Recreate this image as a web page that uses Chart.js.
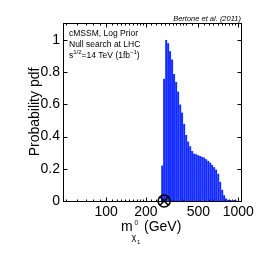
<!DOCTYPE html>
<html>
<head>
<meta charset="utf-8">
<script src="https://cdn.jsdelivr.net/npm/chart.js@4.4.1/dist/chart.umd.min.js"></script>
<style>
  html, body { margin: 0; padding: 0; background: #fff; }
  #wrap { width: 266px; height: 266px; }
</style>
</head>
<body>
<div id="wrap"><canvas id="c" width="266" height="266"></canvas></div>
<script>
// Bin centres (GeV) and posterior pdf values
const massBins = [266, 275, 285, 295, 305, 316, 327, 339, 351, 364, 376, 390, 404, 418, 433, 448, 464, 481, 498, 515, 534, 553, 572, 593, 614, 635, 658, 681, 706, 731, 757, 783, 811, 840, 870, 901, 933, 966];
const pdfValues = [0.22, 0.76, 1.0, 0.98, 0.93, 0.88, 0.79, 0.74, 0.68, 0.60, 0.55, 0.48, 0.41, 0.37, 0.34, 0.31, 0.295, 0.29, 0.285, 0.28, 0.275, 0.27, 0.26, 0.25, 0.24, 0.225, 0.21, 0.195, 0.17, 0.12, 0.07, 0.035, 0.015, 0.008, 0.006, 0.004, 0.006, 0.003];
// Null-search best-fit marker
const markerPoint = [{ x: 275, y: 0 }];
// Axis ticks
const xTickLabels = [100, 200, 500, 1000];
const xMinorTicks = [50, 60, 70, 80, 90, 100, 110, 120, 130, 140, 150, 160, 170, 180, 190, 200, 220, 240, 260, 280, 300, 320, 340, 360, 380, 400, 450, 500, 550, 600, 650, 700, 750, 800, 850, 900, 950, 1000];
const yTickValues = [0, 0.2, 0.4, 0.6, 0.8, 1];

const FONT = '"Liberation Sans", Arial, Helvetica, sans-serif';

const framePlugin = {
  id: 'frame',
  beforeDatasetsDraw(chart) {
    const { ctx, chartArea: a, scales: { x, y } } = chart;
    ctx.save();
    ctx.strokeStyle = '#000';
    ctx.lineWidth = 1;
    const L = Math.round(a.left) - 0.5, R = Math.round(a.right) + 0.5;
    const T = Math.round(a.top) - 0.5, B = Math.round(a.bottom) + 0.5;
    ctx.strokeRect(L, T, R - L, B - T);
    ctx.beginPath();
    xMinorTicks.forEach(v => {
      const px = Math.round(x.getPixelForValue(v)) + 0.5;
      if (px < L || px > R) return;
      const len = xTickLabels.includes(v) ? 4 : 2;
      ctx.moveTo(px, B); ctx.lineTo(px, B - len);
      ctx.moveTo(px, T); ctx.lineTo(px, T + len);
    });
    yTickValues.forEach(v => {
      const py = Math.round(y.getPixelForValue(v)) + 0.5;
      ctx.moveTo(L, py); ctx.lineTo(L + 4, py);
      ctx.moveTo(R, py); ctx.lineTo(R - 4, py);
    });
    ctx.stroke();
    ctx.restore();
  },
  afterDraw(chart) {
    const { ctx } = chart;
    ctx.save();
    ctx.fillStyle = '#000';
    ctx.textBaseline = 'alphabetic';
    // Citation
    ctx.font = 'italic 7.5px ' + FONT;
    ctx.textAlign = 'right';
    ctx.fillText('Bertone et al. (2011)', 241, 21);
    // Inset text
    ctx.textAlign = 'left';
    ctx.font = '8.5px ' + FONT;
    ctx.fillText('cMSSM, Log Prior', 69, 35.5);
    ctx.fillText('Null search at LHC', 69, 46.5);
    let cx = 69;
    const seg = (t, size, dy) => {
      ctx.font = size + 'px ' + FONT;
      ctx.fillText(t, cx, 57.5 + dy);
      cx += ctx.measureText(t).width;
    };
    seg('s', 8.5, 0);
    seg('1/2', 6, -3.5);
    seg('=14 TeV (1fb', 8.5, 0);
    seg('\u22121', 6, -3.5);
    seg(')', 8.5, 0);
    // Y title
    ctx.save();
    ctx.translate(35, 112);
    ctx.rotate(-Math.PI / 2);
    ctx.textAlign = 'center';
    ctx.textBaseline = 'middle';
    ctx.font = '14px ' + FONT;
    ctx.fillText('Probability pdf', 0, 0);
    ctx.restore();
    // X title: m_{chi_1^0} (GeV)
    ctx.textAlign = 'left';
    ctx.font = '14px ' + FONT;
    ctx.fillText('m', 121, 231);
    ctx.font = '6.5px ' + FONT;
    ctx.fillText('0', 134.5, 225);
    ctx.font = '9px ' + FONT;
    ctx.fillText('\u03c7', 131.5, 240);
    ctx.font = '6px ' + FONT;
    ctx.fillText('1', 137, 244);
    ctx.font = '14px ' + FONT;
    ctx.fillText('(GeV)', 144, 231);
    ctx.restore();
  }
};

const barData = massBins.map((m, i) => ({ x: m, y: pdfValues[i] }));

new Chart(document.getElementById('c'), {
  type: 'bar',
  data: {
    datasets: [
      {
        type: 'scatter',
        data: markerPoint,
        pointStyle: 'crossRot',
        pointRadius: 6,
        borderColor: '#000',
        borderWidth: 1.6,
        backgroundColor: 'transparent',
        clip: false
      },
      {
        type: 'scatter',
        data: markerPoint,
        pointStyle: 'circle',
        pointRadius: 6,
        borderColor: '#000',
        borderWidth: 1.6,
        backgroundColor: 'transparent',
        clip: false
      },
      {
        type: 'bar',
        data: barData,
        backgroundColor: '#0018ff',
        borderColor: '#3a5cff',
        borderWidth: { left: 0, right: 0.7, top: 0, bottom: 0 },
        borderSkipped: false,
        barPercentage: 1.0,
        categoryPercentage: 1.0
      }
    ]
  },
  options: {
    responsive: false,
    animation: false,
    events: [],
    layout: { padding: { left: 0, right: 25, top: 24, bottom: 0 } },
    plugins: { legend: { display: false }, tooltip: { enabled: false } },
    scales: {
      x: {
        type: 'logarithmic',
        min: 48,
        max: 1050,
        border: { display: false },
        grid: { display: false, drawTicks: false },
        afterBuildTicks(scale) { scale.ticks = xTickLabels.map(v => ({ value: v })); },
        afterFit(scale) { scale.height = 65; },
        ticks: {
          autoSkip: false,
          maxRotation: 0,
          padding: 3,
          color: '#000',
          font: { family: FONT, size: 14 },
          callback: v => String(v)
        }
      },
      y: {
        type: 'linear',
        min: 0,
        max: 1.1,
        border: { display: false },
        grid: { display: false, drawTicks: false },
        afterBuildTicks(scale) { scale.ticks = yTickValues.map(v => ({ value: v })); },
        afterFit(scale) { scale.width = 64; },
        ticks: {
          padding: 4,
          color: '#000',
          font: { family: FONT, size: 14 },
          callback: v => String(Math.round(v * 10) / 10)
        }
      }
    }
  },
  plugins: [framePlugin]
});
</script>
</body>
</html>
